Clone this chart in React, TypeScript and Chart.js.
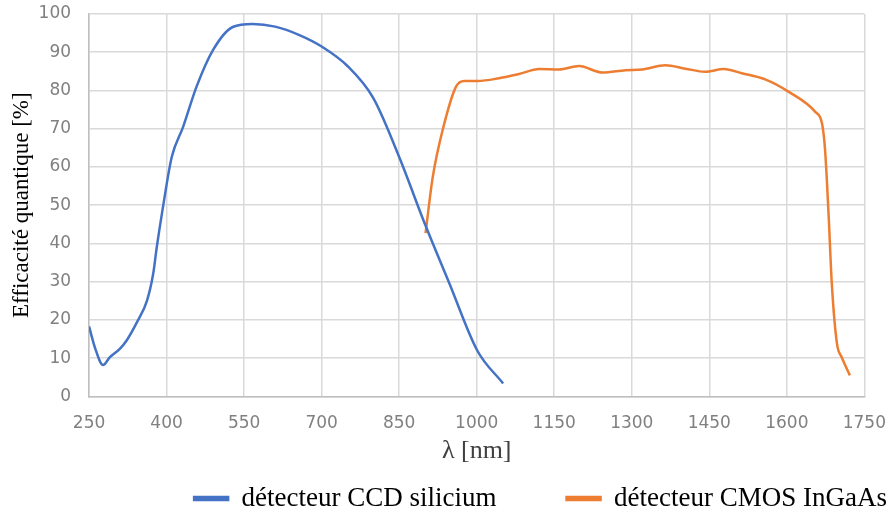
import React, { useEffect, useRef } from "react";
import { Chart, registerables } from "chart.js";

Chart.register(...registerables);

const ccdWavelengths = [250, 262, 277, 290, 310, 323, 343, 362, 374, 381, 393, 410, 432, 458, 490, 528, 567, 610, 657, 700, 750, 800, 850, 900, 947, 1001, 1051];
const ccdValues = [18.3, 12.5, 8.2, 10.2, 12.5, 14.7, 19.5, 25, 32, 39, 49.5, 62.6, 70.5, 81, 90.6, 96.6, 97.4, 96.7, 94.5, 91.5, 86.4, 78, 62.6, 45, 29.6, 12, 3.4];

const ingaasWavelengths = [901, 915, 934, 960, 976, 1002, 1043, 1082, 1121, 1159, 1198, 1243, 1288, 1320, 1365, 1404, 1442, 1478, 1513, 1558, 1603, 1655, 1668, 1674, 1681, 1687, 1697, 1706, 1722];
const ingaasValues = [42.7, 57.4, 69.6, 81, 82.5, 82.5, 83.2, 84.3, 85.6, 85.5, 86.4, 84.7, 85.3, 85.5, 86.6, 85.7, 84.9, 85.6, 84.5, 82.9, 79.7, 74.4, 71.4, 64.4, 46.9, 29.5, 13.8, 10.3, 5.5];

const xMin = 250;
const xMax = 1750;
const xStep = 150;
const yMin = 0;
const yMax = 100;
const yStep = 10;

const seriesLabels = ["détecteur CCD silicium", "détecteur CMOS InGaAs"];
const xTitle = "λ [nm]";
const yTitle = "Efficacité quantique [%]";

const LEGEND_GAP = 70;
const LEGEND_SHIFT_X = 69;
const LEGEND_SHIFT_Y = 52;

const legendShift = {
  id: "legendShift",
  afterLayout(chart: any) {
    const lg = chart.legend;
    if (lg) {
      lg.left += LEGEND_SHIFT_X;
      lg.right += LEGEND_SHIFT_X;
      lg.top -= LEGEND_SHIFT_Y;
    }
  },
};

export default function App() {
  const ref = useRef<HTMLCanvasElement | null>(null);
  useEffect(() => {
    document.body.style.margin = "0";
    const ctx = ref.current!;
    const chart = new Chart(ctx, {
      type: "line",
      plugins: [legendShift],
      data: {
        datasets: [
          {
            label: seriesLabels[0],
            data: ccdWavelengths.map((x, i) => ({ x, y: ccdValues[i] })),
            borderColor: "#4472C4",
            backgroundColor: "#4472C4",
            borderWidth: 2.5,
            pointRadius: 0,
            cubicInterpolationMode: "monotone",
          },
          {
            label: seriesLabels[1],
            data: ingaasWavelengths.map((x, i) => ({ x, y: ingaasValues[i] })),
            borderColor: "#ED7D31",
            backgroundColor: "#ED7D31",
            borderWidth: 2.5,
            pointRadius: 0,
            cubicInterpolationMode: "monotone",
          },
        ],
      },
      options: {
        animation: false,
        responsive: false,
        maintainAspectRatio: false,
        layout: { padding: { top: 14, right: 0, left: 0, bottom: -4 } },
        plugins: {
          tooltip: { enabled: false },
          legend: {
            position: "bottom",
            align: "end",
            maxHeight: 50,
            labels: {
              boxWidth: 34,
              boxHeight: 3,
              padding: LEGEND_GAP,
              color: "#000",
              font: { family: "'Liberation Serif', serif", size: 27 },
            },
          },
        },
        scales: {
          x: {
            type: "linear",
            min: xMin,
            max: xMax,
            ticks: {
              stepSize: xStep,
              color: "#808080",
              padding: 2,
              font: { family: "'DejaVu Sans', sans-serif", size: 17 },
              callback: (v: any) => String(v),
            },
            grid: { color: "#d9d9d9", lineWidth: 1.5, drawTicks: true, tickLength: 15, tickColor: "rgba(0,0,0,0)" },
            border: { color: "#bfbfbf", width: 1.5 },
            title: {
              display: true,
              text: xTitle,
              color: "#404040",
              font: { family: "'Liberation Serif', serif", size: 26 },
              padding: { top: 0, bottom: 0 },
            },
          },
          y: {
            min: yMin,
            max: yMax,
            ticks: {
              stepSize: yStep,
              color: "#808080",
              padding: 2,
              font: { family: "'DejaVu Sans', sans-serif", size: 17 },
              callback: (v: any) => String(v),
            },
            grid: { color: "#d9d9d9", lineWidth: 1.5, drawTicks: true, tickLength: 16, tickColor: "rgba(0,0,0,0)" },
            border: { color: "#bfbfbf", width: 1.5 },
            title: {
              display: true,
              text: yTitle,
              color: "#000",
              font: { family: "'Liberation Serif', serif", size: 23 },
              padding: { top: 8, bottom: 1 },
            },
          },
        },
      },
    });
    return () => chart.destroy();
  }, []);
  return (
    <div style={{ width: 888, height: 513, background: "#fff" }}>
      <canvas ref={ref} width={888} height={513} />
    </div>
  );
}
